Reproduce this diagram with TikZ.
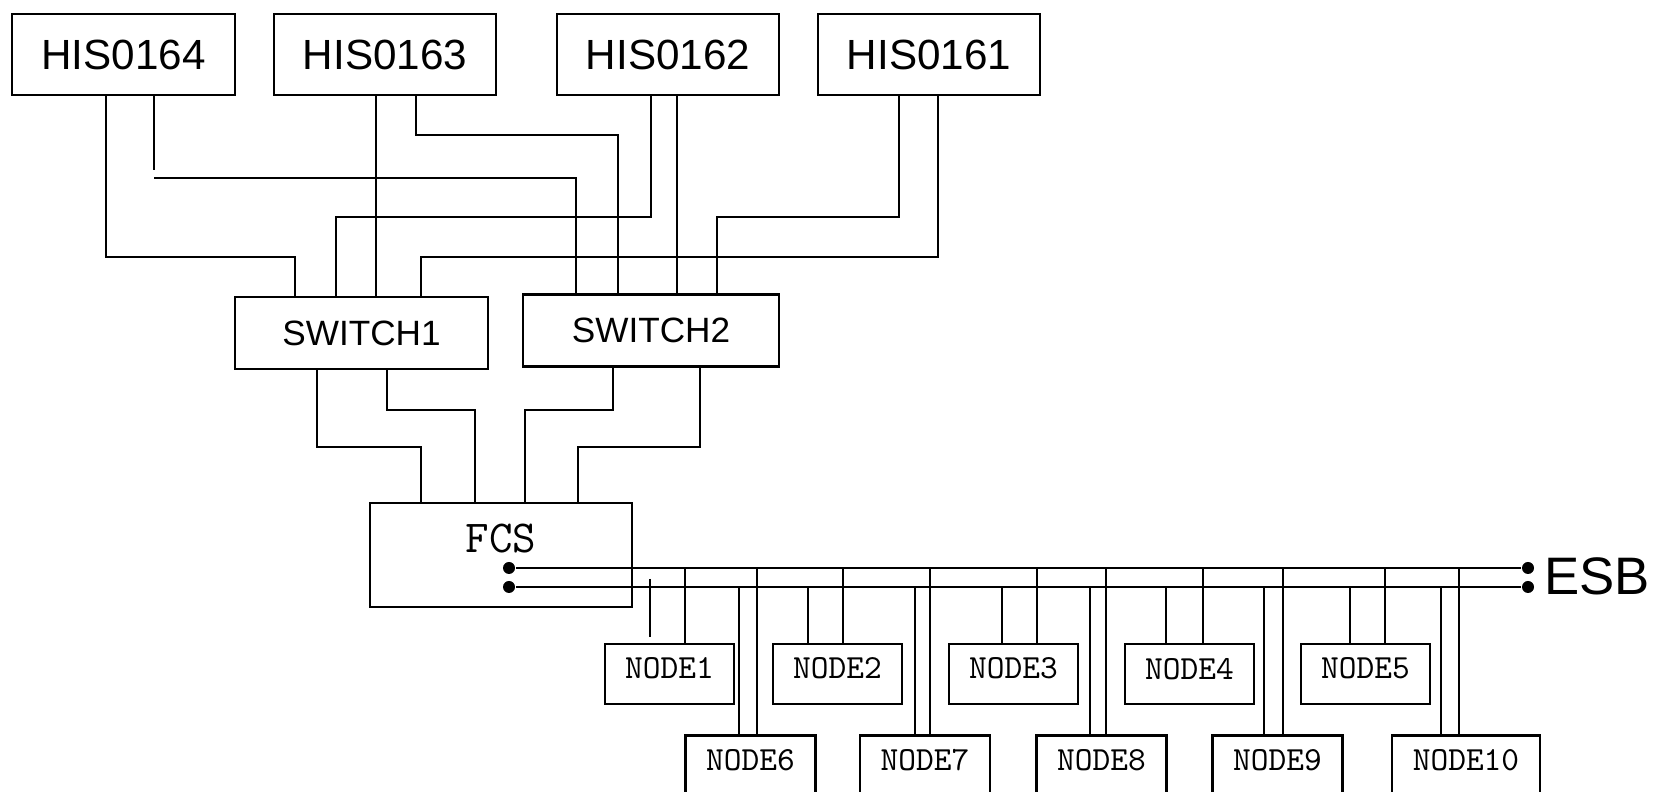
\documentclass[tikz,border=0pt]{standalone}
\usepackage{fontspec}
\setmainfont{Liberation Sans}

\begin{document}
\begin{tikzpicture}[x=0.01cm,y=-0.01cm,line width=0.6pt,
  his/.style={draw,minimum width=2.22cm,minimum height=0.81cm,font=\fontsize{12}{14}\selectfont},
  sw/.style={draw,minimum height=0.72cm,font=\fontsize{10}{12}\selectfont},
  pc/.style={draw,minimum width=1.29cm,minimum height=0.6cm,inner sep=0pt,text depth=0.11cm,font=\ttfamily\fontsize{9.6}{11}\selectfont},
  dot/.style={circle,fill,inner sep=0pt,minimum size=0.12cm}]
\useasboundingbox (0,0) rectangle (1666,792);
\clip (0,0) rectangle (1666,792);

% hosts and switches
\node[his] (his164) at (123.5,54.5) {HIS0164};
\node[his] (his163) at (385,54.5) {HIS0163};
\node[his] (his162) at (668,54.5) {HIS0162};
\node[his] (his161) at (929,54.5) {HIS0161};
\node[sw,minimum width=2.53cm] (sw1) at (361.5,333) {SWITCH1};
\node[sw,minimum width=2.56cm] (sw2) at (651,330.5) {SWITCH2};
\node[draw,minimum width=2.62cm,minimum height=1.04cm] (fcs) at (501,555) {};
\node[anchor=base,inner sep=0pt,font=\ttfamily\fontsize{13}{15}\selectfont] (fcstxt) at (501,553) {FCS};

\draw (106,0 |- his164.south) -- (106,257) -| (295,0 |- sw1.north);
\draw (154,0 |- his164.south) -- (154,170);
\draw (154,178) -| (576,0 |- sw2.north);
\draw (376,0 |- his163.south) -- (376,0 |- sw1.north);
\draw (416,0 |- his163.south) -- (416,135) -| (618,0 |- sw2.north);
\draw (651,0 |- his162.south) -- (651,217) -| (336,0 |- sw1.north);
\draw (677,0 |- his162.south) -- (677,0 |- sw2.north);
\draw (899,0 |- his161.south) -- (899,217) -| (717,0 |- sw2.north);
\draw (938,0 |- his161.south) -- (938,257) -| (421,0 |- sw1.north);

\draw (317,0 |- sw1.south) -- (317,447) -| (421,0 |- fcs.north);
\draw (387,0 |- sw1.south) -- (387,410) -| (475,0 |- fcs.north);
\draw (613,0 |- sw2.south) -- (613,410) -| (525,0 |- fcs.north);
\draw (700,0 |- sw2.south) -- (700,447) -| (578,0 |- fcs.north);

% ESB bus
\node[dot] (a1) at (509,568) {};
\node[dot] (a2) at (1528,568) {};
\node[dot] (b1) at (509,587) {};
\node[dot] (b2) at (1528,587) {};
\draw (a1) -- (a2);
\draw (b1) -- (b2);
\node[anchor=base west,inner sep=0pt,font=\fontsize{15}{17}\selectfont] (esb) at (1543,595) {ESB};

% stations
\foreach \n/\x in {1/669.5,2/837.5,3/1013.5,4/1189.5,5/1365.5}
  \node[pc] (n\n) at (\x,674) {NODE\n};
\foreach \n/\x in {6/750.5,7/925,8/1101.5,9/1277.5}
  \node[pc,minimum width=1.3cm] (n\n) at (\x,765.5) {NODE\n};
\node[pc,minimum width=1.48cm] (n10) at (1466,765.5) {NODE10};

\coordinate (s1) at (650,579);
\draw (s1) -- ++(0,58);
\foreach \x/\n in {808/2,1002/3,1166/4,1350/5,739/6,915/7,1090/8,1264/9,1441/10}
  \draw (\x,0 |- b1) -- (\x,0 |- n\n.north);
\foreach \x/\n in {685/1,843/2,1037/3,1203/4,1385/5,757/6,930/7,1106/8,1283/9,1459/10}
  \draw (\x,0 |- a1) -- (\x,0 |- n\n.north);
\end{tikzpicture}
\end{document}
